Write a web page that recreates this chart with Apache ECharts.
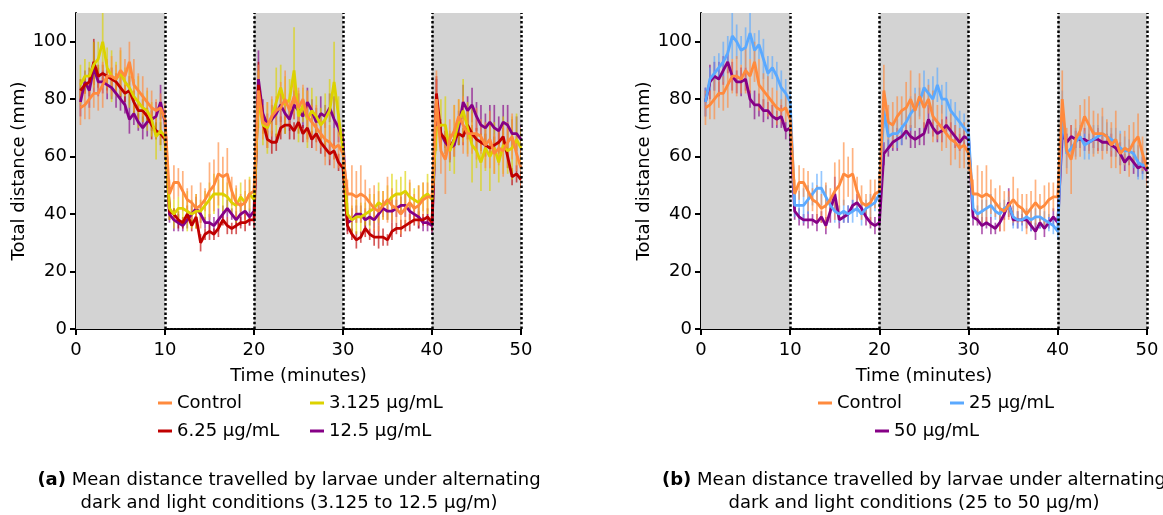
<!DOCTYPE html>
<html><head><meta charset="utf-8">
<script src="https://cdn.jsdelivr.net/npm/echarts@6/dist/echarts.min.js"></script>
<style>html,body{margin:0;padding:0;background:#fff}#c{width:1163px;height:515px}</style>
</head><body><div id="c"></div>
<script>
// ---- data ----
const times = [0.5,1,1.5,2,2.5,3,3.5,4,4.5,5,5.5,6,6.5,7,7.5,8,8.5,9,9.5,10,
  10.5,11,11.5,12,12.5,13,13.5,14,14.5,15,15.5,16,16.5,17,17.5,18,18.5,19,19.5,20,
  20.5,21,21.5,22,22.5,23,23.5,24,24.5,25,25.5,26,26.5,27,27.5,28,28.5,29,29.5,30,
  30.5,31,31.5,32,32.5,33,33.5,34,34.5,35,35.5,36,36.5,37,37.5,38,38.5,39,39.5,40,
  40.5,41,41.5,42,42.5,43,43.5,44,44.5,45,45.5,46,46.5,47,47.5,48,48.5,49,49.5,50];
const xTicks = [0,10,20,30,40,50];
const yTicks = [0,20,40,60,80,100];
const darkPeriods = [[0,10],[20,30],[40,50]];
const switchTimes = [10,20,30,40,50];

const control = [77,78,80,82,82,85,88,88,87,90,88,93,85,83,81,79,77,76,77,73,
  47,51,51,48,45,44,42,43,45,48,50,54,53,54,48,44,43,44,47,48,
  83,72,71,74,76,77,80,76,81,77,80,74,72,70,68,66,65,63,64,61,
  47,47,46,47,46,44,42,41,43,45,43,42,40,42,44,42,43,45,46,46,
  80,62,59,66,69,74,71,68,68,68,67,64,66,61,63,62,65,67,61,56];
const errControl = [6,5,7,5,6,8,6,7,5,8,6,7,9,6,7,5,6,4,5,6,
  5,6,5,7,4,6,5,8,4,10,9,11,7,9,5,6,4,8,5,6,
  9,6,8,7,5,9,10,6,8,7,5,9,6,8,5,9,6,7,8,6,
  5,10,9,10,6,5,8,7,5,8,6,5,7,6,8,5,7,6,5,6,
  10,8,12,7,9,6,10,8,7,9,6,8,10,7,6,9,7,8,6,7];

const dose3125 = [85,88,88,92,94,100,91,88,87,89,86,84,81,79,77,76,73,67,69,67,
  42,40,42,42,41,40,41,41,43,45,47,47,47,46,44,43,46,44,47,45,
  80,71,70,74,79,84,78,80,90,74,78,73,76,74,71,73,76,86,74,62,
  40,38,39,39,40,41,42,44,43,44,46,47,47,48,46,45,44,46,47,45,
  70,71,71,62,66,72,76,70,64,62,58,63,60,63,58,64,62,63,66,63];
const err3125 = [7,6,5,8,6,10,7,9,6,8,5,7,6,9,5,7,6,8,7,5,
  4,5,4,6,7,5,6,4,5,6,7,5,6,5,4,6,5,4,6,5,
  10,7,9,6,12,8,10,7,15,9,6,10,8,7,6,9,11,14,7,6,
  4,5,6,5,4,6,5,7,5,6,8,5,6,7,5,4,6,5,7,5,
  8,9,10,7,12,8,11,9,13,6,10,8,12,9,7,10,8,11,9,7];

const dose625 = [83,85,86,93,88,89,88,87,86,84,82,83,79,76,76,74,71,69,68,66,
  41,40,38,37,40,36,39,30,33,34,33,35,38,36,35,36,37,37,38,38,
  85,72,66,65,65,70,71,71,69,72,68,70,66,68,65,63,61,62,58,56,
  36,33,31,32,35,33,32,32,32,31,34,35,35,36,37,38,38,38,39,37,
  82,68,66,63,66,68,67,71,68,66,65,64,63,64,65,67,60,53,54,52];
const err625 = [4,3,5,8,4,3,5,4,3,4,3,5,4,3,4,3,5,3,4,3,
  3,2,3,2,3,2,4,3,2,3,2,3,2,3,2,3,2,3,2,3,
  8,4,3,4,3,4,3,5,3,4,3,4,3,3,4,3,4,3,3,4,
  3,2,3,2,3,2,3,4,3,2,3,2,3,2,3,2,3,2,3,3,
  6,4,3,4,3,4,3,5,3,4,3,4,3,3,4,3,4,3,3,3];

const dose125 = [79,86,83,91,86,86,85,84,82,80,78,73,75,72,70,72,73,74,79,72,
  40,38,37,36,38,40,42,40,37,37,36,38,40,42,40,38,40,41,39,41,
  87,75,71,73,75,78,75,73,78,76,74,79,76,72,75,74,77,73,70,66,
  37,38,40,40,38,39,38,40,42,41,41,42,43,43,41,40,39,37,37,36,
  78,68,65,63,64,70,79,76,78,74,71,70,72,70,69,72,71,68,68,66];
const err125 = [5,4,6,9,5,4,5,4,5,4,3,5,4,3,4,5,4,5,6,4,
  3,4,3,2,3,3,4,3,2,3,3,4,3,3,2,3,4,3,3,3,
  10,5,4,5,4,6,5,4,5,6,4,5,4,5,6,4,5,8,5,4,
  3,4,3,3,4,3,3,4,3,3,4,3,3,4,3,3,4,3,3,3,
  9,5,4,5,4,6,6,5,6,5,7,5,6,8,5,6,7,5,6,5];

const dose25 = [79,87,89,91,93,96,102,100,97,98,103,97,99,94,89,91,88,84,82,79,
  43,43,43,45,47,49,49,46,43,41,40,41,40,41,42,40,42,43,44,47,
  76,67,68,68,70,72,75,77,79,84,82,80,85,80,80,76,74,72,70,68,
  42,40,41,42,43,41,40,42,43,39,38,38,39,38,39,39,38,37,36,34,
  75,61,63,65,67,64,65,66,67,68,67,66,65,63,62,62,61,58,57,57];
const err25 = [5,4,6,5,7,6,8,6,5,7,9,6,5,7,6,4,5,6,5,4,
  4,5,6,5,4,5,6,4,3,4,3,4,3,4,3,4,3,4,3,4,
  6,5,4,5,6,5,6,7,5,6,5,8,6,5,6,4,5,4,5,4,
  4,3,4,3,4,3,4,3,3,4,3,4,3,4,3,4,3,3,3,3,
  8,5,4,5,4,5,6,5,4,6,5,4,5,6,5,4,5,6,5,4];

const dose50 = [79,86,88,87,90,93,88,86,86,87,80,78,78,76,76,74,73,74,69,70,
  41,39,38,38,38,37,39,36,41,47,38,39,40,43,44,42,39,37,36,37,
  61,63,65,66,67,69,67,66,67,68,73,70,68,69,71,69,67,65,67,66,
  39,38,36,37,36,35,37,40,44,38,38,38,38,36,34,37,35,37,39,37,
  68,65,67,66,66,66,65,66,66,65,65,64,63,61,58,60,58,56,57,55];
const err50 = [5,6,5,6,5,4,5,4,5,4,3,5,4,4,3,4,3,4,3,4,
  3,3,2,3,2,3,2,3,4,6,3,2,3,2,3,2,3,2,3,3,
  4,3,3,4,3,3,4,3,3,4,5,3,3,4,3,3,4,3,3,4,
  3,2,3,2,3,2,3,2,5,2,3,2,3,2,3,2,3,2,3,3,
  5,3,4,3,3,4,3,3,4,3,3,4,3,4,3,3,4,3,3,4];

// ---- styling ----
const FONT = 'DejaVu Sans';
const C_CTRL = '#ff8a3d', C_Y = '#dcd200', C_R = '#c00000', C_P = '#860086', C_B = '#5aa9ff';

function lineSeries(name, vals, color, gi) {
  return {name, type:'line', xAxisIndex:gi, yAxisIndex:gi, z:3,
    data: times.map((t,i)=>[t, vals[i]]), showSymbol:false, symbol:'none',
    lineStyle:{color, width:2.8}, itemStyle:{color}, animation:false, silent:true};
}
function errSeries(name, vals, errs, color, gi) {
  return {name: name+' SD', type:'custom', xAxisIndex:gi, yAxisIndex:gi, clip:true, z:3,
    data: times.map((t,i)=>[t, vals[i], errs[i]]),
    encode:{x:0, y:1}, animation:false, silent:true,
    renderItem(params, api){
      const x=api.value(0), y=api.value(1), e=api.value(2);
      const p1=api.coord([x,y-e]), p2=api.coord([x,y+e]);
      return {type:'line', shape:{x1:p1[0],y1:p1[1],x2:p2[0],y2:p2[1]},
        style:{stroke:color, lineWidth:1.7, opacity:0.65}};
    }};
}
function markerSeries(gi) {
  return [{type:'line', xAxisIndex:gi, yAxisIndex:gi, data:[], z:0, silent:true,
    markArea:{silent:true, itemStyle:{color:'#d3d3d3'},
      data: darkPeriods.map(p=>[{xAxis:p[0]},{xAxis:p[1]}])}},
   {type:'line', xAxisIndex:gi, yAxisIndex:gi, data:[], z:5, silent:true,
    markLine:{silent:true, symbol:['none','none'], label:{show:false},
      lineStyle:{color:'#000', width:2.5, type:[2.5,2.2]},
      data: switchTimes.map(t=>({xAxis:t}))}}];
}
function xAx(gi){
  return {gridIndex:gi, type:'value', min:0, max:50, interval:10,
    axisLine:{show:true, onZero:false, lineStyle:{color:'#000', width:2, type:[2,1.5]}},
    axisTick:{show:true, length:6, lineStyle:{color:'#000', width:2}, customValues:xTicks},
    axisLabel:{color:'#000', fontSize:18, fontFamily:FONT, margin:12, customValues:xTicks},
    splitLine:{show:false},
    name:'Time (minutes)', nameLocation:'middle', nameGap:38,
    nameTextStyle:{color:'#000', fontSize:18, fontFamily:FONT}};
}
function yAx(gi){
  return {gridIndex:gi, type:'value', min:0, max:110, interval:20,
    axisLine:{show:true, lineStyle:{color:'#000', width:2}},
    axisTick:{show:true, length:6, lineStyle:{color:'#000', width:2}, customValues:yTicks},
    axisLabel:{color:'#000', fontSize:18, fontFamily:FONT, margin:9, customValues:yTicks},
    splitLine:{show:false},
    name:'Total distance (mm)', nameLocation:'middle', nameGap:43,
    nameTextStyle:{color:'#000', fontSize:18, fontFamily:FONT}};
}
function leg(name, left, top){
  return {data:[name], left, top, padding:0, icon:'rect', itemWidth:14, itemHeight:3,
    itemTextGap:11, selectedMode:false,
    textStyle:{fontFamily:FONT, fontSize:18, color:'#000'}};
}
function caption(x, tag, l1, l2){
  return {type:'text', x, y:469, silent:true,
    style:{text:'{b|'+tag+'} '+l1+'\n'+l2, align:'center', verticalAlign:'top',
      fontFamily:FONT, fontSize:18, lineHeight:23, fill:'#000',
      rich:{b:{fontWeight:'bold', fontFamily:FONT, fontSize:18, fill:'#000'}}}};
}

const option = {
  backgroundColor:'#fff', animation:false,
  grid:[{left:76, top:13, width:445, height:316},
        {left:701, top:13, width:446, height:316}],
  xAxis:[xAx(0), xAx(1)],
  yAxis:[yAx(0), yAx(1)],
  legend:[leg('Control',158,394), leg('3.125 µg/mL',310,394),
          leg('6.25 µg/mL',158,422), leg('12.5 µg/mL',310,422),
          leg('Control',818,394), leg('25 µg/mL',950,394), leg('50 µg/mL',875,422)],
  series:[
    ...markerSeries(0),
    errSeries('12.5 µg/mL', dose125, err125, C_P, 0), lineSeries('12.5 µg/mL', dose125, C_P, 0),
    errSeries('6.25 µg/mL', dose625, err625, C_R, 0), lineSeries('6.25 µg/mL', dose625, C_R, 0),
    errSeries('3.125 µg/mL', dose3125, err3125, C_Y, 0), lineSeries('3.125 µg/mL', dose3125, C_Y, 0),
    errSeries('Control', control, errControl, C_CTRL, 0), lineSeries('Control', control, C_CTRL, 0),
    ...markerSeries(1),
    errSeries('50 µg/mL', dose50, err50, C_P, 1), lineSeries('50 µg/mL', dose50, C_P, 1),
    errSeries('25 µg/mL', dose25, err25, C_B, 1), lineSeries('25 µg/mL', dose25, C_B, 1),
    errSeries('Control b', control, errControl, C_CTRL, 1), lineSeries('Control', control, C_CTRL, 1)
  ],
  graphic:[
    caption(289, '(a)', 'Mean distance travelled by larvae under alternating', 'dark and light conditions (3.125 to 12.5 µg/m)'),
    caption(914, '(b)', 'Mean distance travelled by larvae under alternating', 'dark and light conditions (25 to 50 µg/m)')
  ]
};
const chart = echarts.init(document.getElementById('c'), null, {renderer:'canvas'});
chart.setOption(option);
</script></body></html>
